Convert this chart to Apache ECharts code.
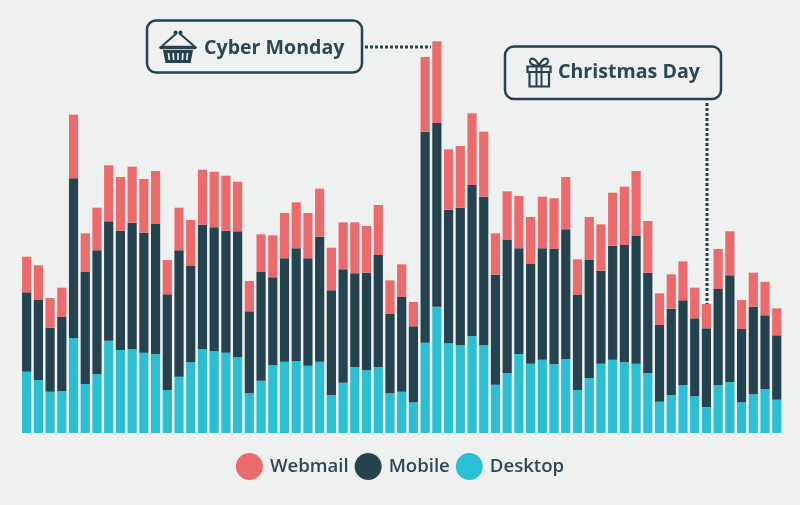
<!DOCTYPE html>
<html>
<head>
<meta charset="utf-8">
<style>html,body{margin:0;padding:0;background:#EFF1F1}#c{width:800px;height:505px}</style>
<script src="https://cdn.jsdelivr.net/npm/echarts@6/dist/echarts.min.js"></script>
</head>
<body>
<div id="c"></div>
<script>
const desktop = [61.3,53,41.3,42,95,49,58.7,92.3,83,83.7,80.3,78.7,43,56.3,70.7,83.7,81.7,80.3,76,39.7,52.3,68,71.3,72,67.3,71.3,38,50.3,66,62.7,66,39.7,41.3,30.7,90.3,126.3,89.7,87.7,96.7,87.7,48.3,60,79,69.3,73.3,68.7,74,43,55,69.3,73.3,70.7,69.3,60,31.3,38,47.7,36.7,26,47.7,51,30.7,38.7,44,33.3];
const mobile = [79.4,80,64,74,159.7,112,124,119.4,119.3,126.6,120,130.3,95.7,126.4,96.3,124.6,124,122,125.7,82,108.7,87.7,103.4,112.7,107.4,125,104.7,113.4,93.7,97.6,112,79.3,94.7,76,211,183.7,133.6,137.6,151.3,148.6,110,133,105.7,99.7,111.4,115.3,129.7,95,118,93,114,117.3,127.7,100.3,76.7,86.3,85,78,78.7,96.3,106.7,73.3,87.6,73.7,64.4];
const webmail = [35.6,34.7,29.7,29.3,63.6,38.7,42.6,56,53.7,56,53.7,53,34.3,42.6,46,55,55.6,55,49.6,30.3,37.7,42,45.3,46,45.3,48,42.6,47,51,46.7,50,33.7,32.7,24.3,74.7,81.7,60.4,61.7,71.7,65,41.4,48.7,52.3,47,51.6,50.7,52.3,35.7,43,46.4,53,58.3,65,51.7,31.7,34.4,39,30.6,24.3,40,44,29,34,33.6,27];
const categories = desktop.map((_, i) => 'Day ' + (i + 1));
const seriesNames = ['Webmail', 'Mobile', 'Desktop'];
const callouts = ['Cyber Monday', 'Christmas Day'];

const DARK = '#25424F', RED = '#EB6B6D', CYAN = '#2BBFD3', BG = '#EFF1F1', TEXT = '#2B4855';
const FONT = '"Open Sans", sans-serif';
const stroke = (w) => ({ stroke: DARK, lineWidth: w, fill: 'none' });
const seg = (x1, y1, x2, y2, style) => ({ type: 'line', shape: { x1, y1, x2, y2 }, style });
const curve = (x1, y1, cpx1, cpy1, cpx2, cpy2, x2, y2) => ({ type: 'bezierCurve', shape: { x1, y1, cpx1, cpy1, cpx2, cpy2, x2, y2 }, style: stroke(2.2) });

const chart = echarts.init(document.getElementById('c'), null, { renderer: 'canvas' });
const bar = (name, data, color) => ({
  name, type: 'bar', stack: 'total', data, barWidth: 9.2, silent: true,
  itemStyle: { color }
});
const slots = { stroke: BG, lineWidth: 1.7 };
chart.setOption({
  animation: false,
  backgroundColor: BG,
  grid: { left: 20.8, right: 17.4, top: 33, height: 400, containLabel: false },
  xAxis: { type: 'category', data: categories, show: false },
  yAxis: { type: 'value', min: 0, max: 400, show: false },
  legend: {
    data: seriesNames, left: 'center', top: 448, itemWidth: 27, itemHeight: 27, itemGap: 6,
    icon: 'circle', selectedMode: false,
    textStyle: { color: TEXT, fontFamily: FONT, fontSize: 18.6, fontWeight: 600, padding: [0, 0, 0, 2] }
  },
  series: [bar('Desktop', desktop, CYAN), bar('Mobile', mobile, DARK), bar('Webmail', webmail, RED)],
  graphic: [
    { type: 'rect', shape: { x: 147, y: 20.5, width: 215, height: 52, r: 9 }, style: stroke(2.5) },
    { type: 'rect', shape: { x: 505, y: 46.5, width: 216, height: 52.5, r: 9 }, style: stroke(2.5) },
    { type: 'text', style: { text: callouts[0], x: 204, y: 48, verticalAlign: 'middle', fill: TEXT, font: '700 19.6px ' + FONT } },
    { type: 'text', style: { text: callouts[1], x: 558, y: 72, verticalAlign: 'middle', fill: TEXT, font: '700 19.6px ' + FONT } },
    seg(365, 47, 431, 47, { stroke: DARK, lineWidth: 3, lineDash: [3, 2] }),
    seg(707, 103, 707, 304, { stroke: DARK, lineWidth: 3, lineDash: [3, 2] }),
    // basket icon
    seg(162, 46, 177, 33, stroke(2)),
    seg(194, 46, 179, 33, stroke(2)),
    seg(161, 47.5, 195, 47.5, { stroke: DARK, lineWidth: 3.5, lineCap: 'round' }),
    { type: 'circle', shape: { cx: 175.5, cy: 32.5, r: 2 }, style: { fill: DARK } },
    { type: 'circle', shape: { cx: 180.5, cy: 32.5, r: 2 }, style: { fill: DARK } },
    { type: 'polygon', shape: { points: [[163, 50], [193, 50], [190.5, 63], [165.5, 63]] }, style: { fill: DARK } },
    seg(168.5, 53, 169.3, 60, slots), seg(173.2, 53, 173.6, 60, slots), seg(178, 53, 178, 60, slots),
    seg(182.8, 53, 182.4, 60, slots), seg(187.5, 53, 186.7, 60, slots),
    // gift icon
    { type: 'polyline', shape: { points: [[529.5, 72], [529.5, 86.5], [549, 86.5], [549, 72]] }, style: stroke(2.2) },
    { type: 'rect', shape: { x: 527.5, y: 66.5, width: 23, height: 5.5 }, style: stroke(2.2) },
    seg(536.5, 66, 536.5, 86.5, stroke(2)),
    seg(541.5, 66, 541.5, 86.5, stroke(2)),
    curve(539, 66, 533, 66, 529.5, 63.5, 530, 60.5),
    curve(530, 60.5, 531, 57, 536, 58, 539, 66),
    curve(539, 66, 542, 58, 547, 57, 548, 60.5),
    curve(548, 60.5, 548.5, 63.5, 545, 66, 539, 66)
  ]
});
</script>
</body>
</html>
